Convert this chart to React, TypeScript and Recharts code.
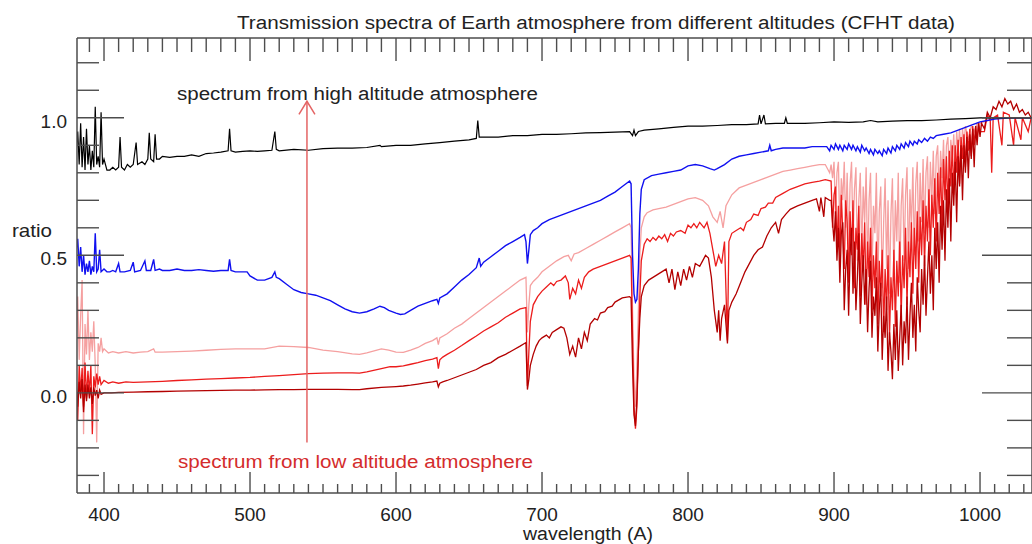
import React from "react";
import { LineChart, Line, XAxis, YAxis, ReferenceLine } from "recharts";

// ratio spectra, [wavelength, ratio]
const highAltitude: [number, number][] = [
  [381, 0.88], [382, 0.95], [383, 0.83], [384, 0.98], [385, 0.82], [386, 0.93], [387, 0.81], [388, 0.96],
  [389, 0.83], [390, 0.9], [391, 0.81], [392, 0.88], [393, 0.82], [394, 1.04], [395, 0.83], [396, 0.86],
  [397, 0.82], [398, 1.02], [399, 0.83], [400, 0.85], [402, 0.81], [404, 0.81], [406, 0.82], [408, 0.81],
  [410, 0.82], [411, 0.93], [412, 0.82], [414, 0.81], [416, 0.83], [418, 0.82], [420, 0.83], [422, 0.91],
  [423, 0.83], [426, 0.84], [428, 0.83], [430, 0.85], [431, 0.945], [432, 0.85], [434, 0.84], [435, 0.94],
  [436, 0.85], [438, 0.85], [440, 0.86], [445, 0.856], [450, 0.86], [455, 0.86], [460, 0.865], [465, 0.86],
  [470, 0.87], [475, 0.872], [480, 0.875], [485, 0.88], [486, 0.96], [487, 0.88], [490, 0.875], [495, 0.878],
  [500, 0.88], [505, 0.878], [510, 0.88], [515, 0.882], [517, 0.95], [518, 0.885], [520, 0.88], [530, 0.885],
  [540, 0.882], [550, 0.888], [560, 0.89], [570, 0.89], [580, 0.892], [589, 0.9], [590, 0.895], [600, 0.9],
  [610, 0.9], [620, 0.905], [630, 0.91], [640, 0.915], [650, 0.92], [655, 0.925], [656, 0.99], [657, 0.93],
  [660, 0.93], [670, 0.93], [680, 0.935], [690, 0.935], [700, 0.94], [710, 0.94], [720, 0.942], [730, 0.945],
  [740, 0.946], [750, 0.948], [760, 0.95], [762, 0.935], [763, 0.955], [764, 0.935], [766, 0.95], [770, 0.955],
  [780, 0.96], [790, 0.965], [800, 0.97], [810, 0.97], [820, 0.972], [830, 0.975], [840, 0.975], [848, 0.978],
  [849, 1.01], [850, 0.978], [852, 1.01], [853, 0.978], [860, 0.98], [866, 0.98], [867, 1.0], [868, 0.98],
  [880, 0.98], [890, 0.982], [900, 0.985], [910, 0.983], [920, 0.985], [925, 0.99], [930, 0.985], [940, 0.988],
  [950, 0.99], [960, 0.99], [970, 0.992], [980, 0.995], [990, 0.997], [1000, 1.0], [1010, 1.0], [1020, 1.0],
  [1035, 1.0],
];

const blueSpectrum: [number, number][] = [
  [381, 0.52], [382, 0.56], [383, 0.46], [384, 0.53], [385, 0.44], [386, 0.5], [387, 0.43], [388, 0.47],
  [389, 0.44], [390, 0.48], [391, 0.43], [392, 0.46], [393, 0.44], [394, 0.58], [395, 0.44], [396, 0.45],
  [397, 0.52], [398, 0.44], [400, 0.45], [402, 0.44], [404, 0.44], [406, 0.445], [408, 0.44], [410, 0.47],
  [411, 0.44], [414, 0.44], [418, 0.445], [420, 0.475], [421, 0.44], [425, 0.445], [428, 0.48], [429, 0.445],
  [432, 0.445], [434, 0.485], [435, 0.445], [438, 0.45], [440, 0.445], [445, 0.445], [450, 0.45], [455, 0.445],
  [460, 0.445], [465, 0.448], [470, 0.445], [475, 0.442], [480, 0.445], [485, 0.445], [486, 0.485], [487, 0.445],
  [490, 0.44], [495, 0.44], [498, 0.44], [500, 0.425], [505, 0.41], [510, 0.41], [515, 0.42], [517, 0.44],
  [518, 0.42], [520, 0.415], [525, 0.395], [530, 0.375], [535, 0.365], [540, 0.36], [545, 0.355], [550, 0.345],
  [555, 0.335], [560, 0.32], [565, 0.305], [570, 0.295], [575, 0.29], [580, 0.295], [585, 0.305], [589, 0.315],
  [592, 0.31], [595, 0.3], [600, 0.29], [603, 0.285], [606, 0.287], [610, 0.3], [615, 0.315], [620, 0.325],
  [625, 0.335], [628, 0.34], [629, 0.325], [630, 0.345], [635, 0.36], [640, 0.385], [645, 0.41], [650, 0.43],
  [655, 0.455], [657, 0.49], [658, 0.46], [660, 0.475], [665, 0.495], [670, 0.515], [675, 0.535], [680, 0.55],
  [685, 0.565], [688, 0.575], [689, 0.55], [690, 0.47], [691, 0.52], [692, 0.575], [694, 0.59], [697, 0.6],
  [700, 0.615], [705, 0.63], [710, 0.64], [715, 0.65], [720, 0.66], [725, 0.67], [730, 0.68], [735, 0.69],
  [740, 0.7], [745, 0.715], [750, 0.73], [755, 0.75], [760, 0.77], [761, 0.76], [762, 0.5], [763, 0.36],
  [764, 0.33], [765, 0.34], [766, 0.45], [767, 0.65], [768, 0.74], [770, 0.775], [775, 0.79], [780, 0.795],
  [785, 0.8], [790, 0.805], [795, 0.81], [800, 0.825], [805, 0.83], [810, 0.825], [815, 0.815], [818, 0.81],
  [820, 0.815], [825, 0.83], [830, 0.85], [835, 0.86], [840, 0.865], [845, 0.87], [850, 0.875], [855, 0.88],
  [856, 0.9], [857, 0.88], [860, 0.885], [865, 0.89], [870, 0.89], [875, 0.89], [880, 0.89], [885, 0.895],
  [890, 0.895], [895, 0.895], [897, 0.88], [898, 0.9], [900, 0.885], [901, 0.905], [903, 0.885], [904, 0.9],
  [906, 0.88], [907, 0.9], [909, 0.885], [910, 0.905], [912, 0.885], [913, 0.9], [915, 0.88], [916, 0.895],
  [918, 0.875], [919, 0.9], [921, 0.88], [922, 0.89], [924, 0.87], [925, 0.885], [927, 0.865], [928, 0.885],
  [930, 0.87], [931, 0.88], [933, 0.862], [934, 0.885], [936, 0.87], [937, 0.89], [939, 0.872], [940, 0.895],
  [942, 0.88], [943, 0.9], [945, 0.885], [946, 0.905], [948, 0.89], [949, 0.91], [951, 0.895], [952, 0.915],
  [954, 0.9], [955, 0.915], [957, 0.905], [958, 0.92], [960, 0.91], [962, 0.925], [964, 0.915], [966, 0.93],
  [968, 0.925], [970, 0.935], [975, 0.94], [980, 0.945], [985, 0.955], [990, 0.965], [995, 0.975],
  [1000, 0.985], [1005, 0.99], [1010, 0.995], [1020, 1.0], [1035, 1.0],
];

const pinkSpectrum: [number, number][] = [
  [381, 0.2], [382, 0.35], [383, 0.12], [384, 0.28], [385, 0.41], [386, -0.15], [387, 0.25], [388, 0.14],
  [389, 0.3], [390, 0.12], [391, 0.22], [392, 0.15], [393, 0.26], [394, 0.1], [395, -0.18], [396, 0.18],
  [397, 0.15], [398, 0.2], [399, 0.15], [400, 0.16], [403, 0.145], [406, 0.15], [410, 0.145], [415, 0.15],
  [420, 0.145], [425, 0.148], [430, 0.15], [434, 0.16], [435, 0.148], [440, 0.148], [450, 0.15], [460, 0.152],
  [470, 0.155], [480, 0.158], [490, 0.16], [500, 0.16], [510, 0.16], [520, 0.17], [530, 0.168], [540, 0.165],
  [550, 0.155], [560, 0.15], [570, 0.142], [575, 0.14], [580, 0.145], [590, 0.16], [595, 0.155], [600, 0.148],
  [605, 0.147], [610, 0.155], [615, 0.165], [620, 0.18], [625, 0.19], [628, 0.2], [629, 0.175], [630, 0.2],
  [635, 0.215], [640, 0.235], [645, 0.25], [650, 0.27], [655, 0.29], [660, 0.31], [665, 0.33], [670, 0.35],
  [675, 0.37], [680, 0.39], [685, 0.41], [689, 0.42], [690, 0.22], [691, 0.32], [692, 0.39], [694, 0.405],
  [697, 0.42], [700, 0.44], [705, 0.46], [710, 0.48], [715, 0.495], [718, 0.5], [720, 0.48], [722, 0.505],
  [725, 0.51], [730, 0.525], [735, 0.54], [740, 0.555], [745, 0.57], [750, 0.585], [755, 0.6], [760, 0.615],
  [761, 0.6], [762, 0.3], [763, 0.05], [764, -0.05], [765, 0.1], [766, 0.3], [767, 0.5], [768, 0.6],
  [770, 0.64], [772, 0.655], [776, 0.665], [780, 0.67], [785, 0.675], [790, 0.685], [795, 0.695], [800, 0.705],
  [805, 0.71], [810, 0.7], [814, 0.68], [817, 0.64], [820, 0.62], [822, 0.66], [824, 0.6], [826, 0.68],
  [830, 0.72], [835, 0.745], [840, 0.755], [845, 0.765], [850, 0.775], [855, 0.785], [860, 0.795], [865, 0.805],
  [870, 0.81], [875, 0.815], [880, 0.82], [885, 0.825], [890, 0.83], [894, 0.83], [897, 0.8],
  [898, 0.83], [899, 0.78], [900, 0.84], [901, 0.65], [902, 0.8], [903, 0.84], [904, 0.58], [905, 0.78],
  [906, 0.7], [907, 0.84], [908, 0.6], [909, 0.8], [910, 0.52], [911, 0.76], [912, 0.84], [913, 0.55],
  [914, 0.74], [915, 0.82], [916, 0.48], [917, 0.7], [918, 0.8], [919, 0.5], [920, 0.75], [921, 0.62],
  [922, 0.82], [923, 0.45], [924, 0.7], [925, 0.8], [926, 0.42], [927, 0.68], [928, 0.58], [929, 0.8],
  [930, 0.4], [931, 0.66], [932, 0.75], [933, 0.38], [934, 0.62], [935, 0.78], [936, 0.45], [937, 0.7],
  [938, 0.36], [939, 0.65], [940, 0.78], [941, 0.42], [942, 0.7], [943, 0.55], [944, 0.8], [945, 0.4],
  [946, 0.68], [947, 0.78], [948, 0.48], [949, 0.72], [950, 0.82], [951, 0.45], [952, 0.74], [953, 0.6],
  [954, 0.82], [955, 0.5], [956, 0.76], [957, 0.84], [958, 0.55], [959, 0.8], [960, 0.62], [961, 0.85],
  [962, 0.58], [963, 0.8], [964, 0.86], [965, 0.6], [966, 0.84], [967, 0.7], [968, 0.88], [969, 0.65],
  [970, 0.86], [971, 0.9], [972, 0.7], [973, 0.88], [974, 0.78], [975, 0.92], [976, 0.72], [977, 0.9],
  [978, 0.93], [979, 0.78], [980, 0.92], [981, 0.85], [982, 0.94], [983, 0.8], [984, 0.95], [985, 0.88],
  [986, 0.96], [987, 0.85], [988, 0.96], [989, 0.9], [990, 0.97], [992, 0.92], [994, 0.97], [996, 0.95],
  [998, 0.98], [1000, 0.98], [1005, 0.99], [1010, 1.0], [1020, 1.0], [1035, 1.0],
];

const redSpectrum: [number, number][] = [
  [381, 0.05], [382, -0.1], [383, 0.1], [384, 0.0], [385, 0.09], [386, -0.05], [387, 0.11], [388, -0.02],
  [389, 0.08], [390, 0.0], [391, 0.1], [392, -0.15], [393, 0.06], [394, 0.02], [395, 0.07], [396, 0.03],
  [397, 0.06], [398, 0.03], [400, 0.045], [403, 0.035], [406, 0.04], [410, 0.035], [415, 0.04], [420, 0.038],
  [430, 0.04], [440, 0.042], [450, 0.045], [460, 0.047], [470, 0.05], [480, 0.052], [490, 0.054], [500, 0.056],
  [510, 0.06], [520, 0.063], [530, 0.066], [540, 0.07], [550, 0.072], [560, 0.073], [570, 0.073], [575, 0.072],
  [580, 0.076], [590, 0.088], [596, 0.095], [600, 0.095], [605, 0.098], [610, 0.104], [615, 0.11], [620, 0.117],
  [625, 0.123], [628, 0.128], [629, 0.088], [630, 0.12], [632, 0.13], [635, 0.14], [640, 0.155], [645, 0.172],
  [650, 0.19], [655, 0.207], [660, 0.225], [665, 0.24], [670, 0.255], [675, 0.275], [680, 0.29], [685, 0.305],
  [689, 0.31], [690, 0.025], [691, 0.15], [692, 0.26], [694, 0.32], [697, 0.35], [700, 0.37], [703, 0.385],
  [706, 0.4], [708, 0.39], [710, 0.405], [713, 0.41], [716, 0.425], [718, 0.4], [719, 0.34], [721, 0.38],
  [723, 0.36], [725, 0.41], [727, 0.38], [729, 0.42], [732, 0.44], [735, 0.45], [740, 0.46], [745, 0.47],
  [750, 0.48], [755, 0.49], [760, 0.5], [761, 0.49], [762, 0.2], [763, -0.05], [764, -0.13], [765, -0.05],
  [766, 0.15], [767, 0.35], [768, 0.48], [770, 0.54], [772, 0.56], [774, 0.55], [776, 0.565], [778, 0.555],
  [780, 0.57], [782, 0.56], [784, 0.575], [786, 0.55], [788, 0.58], [790, 0.57], [792, 0.585], [795, 0.59],
  [798, 0.58], [800, 0.61], [802, 0.6], [804, 0.615], [806, 0.6], [808, 0.62], [811, 0.6], [813, 0.62],
  [815, 0.58], [817, 0.52], [819, 0.46], [821, 0.5], [823, 0.47], [825, 0.55], [827, 0.19], [828, 0.55],
  [830, 0.58], [833, 0.59], [836, 0.6], [838, 0.59], [840, 0.62], [843, 0.63], [845, 0.65], [848, 0.645],
  [850, 0.67], [853, 0.675], [855, 0.69], [858, 0.69], [860, 0.71], [865, 0.725], [870, 0.74], [875, 0.75],
  [880, 0.76], [885, 0.765], [890, 0.77], [894, 0.775],
  [898, 0.77], [899, 0.6], [900, 0.72], [901, 0.75], [902, 0.52], [903, 0.68], [904, 0.48], [905, 0.72],
  [906, 0.58], [907, 0.45], [908, 0.7], [909, 0.62], [910, 0.4], [911, 0.66], [912, 0.5], [913, 0.7],
  [914, 0.38], [915, 0.6], [916, 0.52], [917, 0.68], [918, 0.35], [919, 0.58], [920, 0.45], [921, 0.62],
  [922, 0.32], [923, 0.55], [924, 0.42], [925, 0.6], [926, 0.3], [927, 0.5], [928, 0.38], [929, 0.55],
  [930, 0.25], [931, 0.48], [932, 0.35], [933, 0.52], [934, 0.22], [935, 0.45], [936, 0.3], [937, 0.5],
  [938, 0.2], [939, 0.42], [940, 0.3], [941, 0.52], [942, 0.24], [943, 0.48], [944, 0.35], [945, 0.55],
  [946, 0.28], [947, 0.5], [948, 0.38], [949, 0.6], [950, 0.32], [951, 0.55], [952, 0.42], [953, 0.62],
  [954, 0.36], [955, 0.6], [956, 0.45], [957, 0.66], [958, 0.4], [959, 0.64], [960, 0.5], [961, 0.7],
  [962, 0.46], [963, 0.68], [964, 0.55], [965, 0.74], [966, 0.5], [967, 0.72], [968, 0.6], [969, 0.78],
  [970, 0.55], [971, 0.8], [972, 0.65], [973, 0.82], [974, 0.6], [975, 0.85], [976, 0.7], [977, 0.86],
  [978, 0.66], [979, 0.88], [980, 0.75], [981, 0.9], [982, 0.72], [983, 0.9], [984, 0.8], [985, 0.92],
  [986, 0.76], [987, 0.93], [988, 0.85], [989, 0.94], [990, 0.82], [991, 0.95], [992, 0.88], [993, 0.96],
  [994, 0.86], [995, 0.97], [996, 0.9], [997, 0.97], [998, 0.92], [999, 0.98], [1000, 0.95],
  [1003, 0.95], [1005, 1.01], [1007, 0.99], [1008, 0.8], [1009, 1.0], [1012, 1.01], [1015, 0.9], [1016, 1.02],
  [1020, 1.01], [1023, 0.9], [1024, 1.0], [1028, 0.92], [1029, 1.0], [1033, 0.95], [1035, 1.0],
];

const darkRedSpectrum: [number, number][] = [
  [381, 0.02], [382, -0.05], [383, 0.04], [384, -0.02], [385, 0.05], [386, -0.07], [387, 0.03], [388, -0.03],
  [389, 0.03], [390, -0.02], [391, 0.02], [392, -0.04], [393, 0.02], [394, -0.01], [395, 0.01], [396, -0.02],
  [397, 0.01], [398, -0.005], [400, 0.0], [405, 0.0], [410, 0.002], [420, 0.003], [430, 0.004], [440, 0.005],
  [450, 0.006], [460, 0.007], [470, 0.008], [480, 0.009], [490, 0.01], [500, 0.01], [510, 0.011], [520, 0.012],
  [530, 0.012], [540, 0.013], [550, 0.013], [560, 0.013], [570, 0.012], [575, 0.012], [580, 0.015], [590, 0.02],
  [600, 0.023], [605, 0.025], [610, 0.028], [615, 0.032], [620, 0.036], [625, 0.04], [628, 0.043], [629, 0.022],
  [630, 0.035], [632, 0.04], [635, 0.045], [640, 0.055], [645, 0.065], [650, 0.075], [655, 0.085], [660, 0.1],
  [665, 0.11], [670, 0.128], [675, 0.14], [680, 0.155], [685, 0.17], [689, 0.183], [690, 0.012], [691, 0.05],
  [692, 0.1], [694, 0.14], [696, 0.17], [698, 0.19], [700, 0.2], [703, 0.21], [705, 0.2], [707, 0.22],
  [710, 0.23], [713, 0.24], [715, 0.235], [717, 0.2], [719, 0.14], [721, 0.17], [723, 0.13], [725, 0.2],
  [727, 0.16], [729, 0.22], [731, 0.19], [733, 0.25], [736, 0.27], [738, 0.265], [740, 0.29], [743, 0.295],
  [745, 0.31], [748, 0.315], [750, 0.33], [755, 0.345], [760, 0.35], [761, 0.345], [762, 0.1], [763, -0.08],
  [764, -0.12], [765, -0.02], [766, 0.15], [767, 0.27], [768, 0.35], [770, 0.39], [773, 0.41], [776, 0.42],
  [779, 0.43], [782, 0.44], [785, 0.45], [787, 0.4], [789, 0.45], [791, 0.375], [793, 0.44], [795, 0.39],
  [797, 0.45], [799, 0.41], [801, 0.46], [803, 0.42], [805, 0.47], [808, 0.46], [810, 0.48], [812, 0.5],
  [814, 0.49], [816, 0.42], [818, 0.3], [820, 0.22], [821, 0.3], [822, 0.19], [823, 0.27], [825, 0.32],
  [827, 0.18], [828, 0.3], [830, 0.33], [833, 0.36], [836, 0.4], [839, 0.44], [842, 0.47], [845, 0.5],
  [848, 0.52], [851, 0.53], [854, 0.57], [857, 0.6], [860, 0.62], [862, 0.58], [864, 0.63], [867, 0.65],
  [870, 0.667], [875, 0.68], [880, 0.69], [885, 0.7], [888, 0.705], [890, 0.66], [891, 0.71], [893, 0.64],
  [894, 0.71], [897, 0.7],
  [898, 0.7], [899, 0.62], [900, 0.55], [901, 0.66], [902, 0.48], [903, 0.6], [904, 0.4], [905, 0.58],
  [906, 0.62], [907, 0.3], [908, 0.45], [909, 0.52], [910, 0.28], [911, 0.5], [912, 0.6], [913, 0.36],
  [914, 0.55], [915, 0.3], [916, 0.42], [917, 0.58], [918, 0.25], [919, 0.4], [920, 0.5], [921, 0.32],
  [922, 0.45], [923, 0.22], [924, 0.38], [925, 0.48], [926, 0.2], [927, 0.35], [928, 0.28], [929, 0.42],
  [930, 0.15], [931, 0.3], [932, 0.4], [933, 0.12], [934, 0.28], [935, 0.2], [936, 0.35], [937, 0.08],
  [938, 0.22], [939, 0.15], [940, 0.05], [941, 0.25], [942, 0.12], [943, 0.3], [944, 0.08], [945, 0.2],
  [946, 0.32], [947, 0.1], [948, 0.26], [949, 0.18], [950, 0.35], [951, 0.12], [952, 0.28], [953, 0.4],
  [954, 0.2], [955, 0.32], [956, 0.15], [957, 0.42], [958, 0.3], [959, 0.22], [960, 0.45], [961, 0.32],
  [962, 0.5], [963, 0.28], [964, 0.42], [965, 0.55], [966, 0.36], [967, 0.5], [968, 0.3], [969, 0.6],
  [970, 0.45], [971, 0.62], [972, 0.4], [973, 0.68], [974, 0.52], [975, 0.7], [976, 0.48], [977, 0.74],
  [978, 0.6], [979, 0.78], [980, 0.55], [981, 0.8], [982, 0.68], [983, 0.84], [984, 0.62], [985, 0.86],
  [986, 0.75], [987, 0.9], [988, 0.7], [989, 0.9], [990, 0.8], [991, 0.93], [992, 0.78], [993, 0.94],
  [994, 0.85], [995, 0.96], [996, 0.82], [997, 0.97], [998, 0.9], [999, 0.98], [1000, 0.93],
  [1001, 0.98], [1003, 0.96], [1005, 1.02], [1007, 1.0], [1009, 1.04], [1011, 1.03], [1013, 1.06],
  [1015, 1.04], [1017, 1.07], [1019, 1.05], [1021, 1.06], [1023, 1.03], [1025, 1.05], [1027, 1.02],
  [1029, 1.03], [1031, 1.01], [1033, 1.02], [1035, 1.0],
];

const majorWavelengths = [400, 500, 600, 700, 800, 900, 1000];
const labelledRatios = [0, 0.5, 1];
const wavelengthTicks = Array.from({ length: 65 }, (_, i) => 390 + i * 10);
const ratioTicks = Array.from({ length: 16 }, (_, i) => Math.round(-3 + i) / 10);

const X_DOMAIN: [number, number] = [381.5, 1035.6];
const Y_DOMAIN: [number, number] = [-0.364, 1.29];

const AXIS = "#4d4d4d";
const FONT = "'Liberation Sans', Arial, Helvetica, sans-serif";
const TEXT = "#222";

const toPoints = (s: [number, number][]) => s.map(([wl, v]) => ({ wl, v }));

const isMajorWl = (v: number) => majorWavelengths.includes(v);
const isLabelledRatio = (v: number) => labelledRatios.some((r) => Math.abs(r - v) < 1e-6);
const isHalfStep = (v: number) => Math.abs(v * 2 - Math.round(v * 2)) < 1e-6;

function BottomTick(props: any) {
  const { x, y, payload } = props;
  const v = payload.value;
  const major = isMajorWl(v);
  return (
    <g>
      <line x1={x} y1={y} x2={x} y2={y - (major ? 21 : 9)} stroke={AXIS} strokeWidth={1.4} />
      {major && (
        <text x={x} y={y + 28} textAnchor="middle" fontSize={19} fontFamily={FONT} fill={TEXT}>
          {v}
        </text>
      )}
    </g>
  );
}

function TopTick(props: any) {
  const { x, y, payload } = props;
  const major = isMajorWl(payload.value);
  return <line x1={x} y1={y} x2={x} y2={y + (major ? 23 : 14)} stroke={AXIS} strokeWidth={1.4} />;
}

function LeftTick(props: any) {
  const { x, y, payload } = props;
  const v = payload.value;
  const major = isHalfStep(v);
  return (
    <g>
      <line x1={x} y1={y} x2={x + (major ? 47 : 22)} y2={y} stroke={AXIS} strokeWidth={1.4} />
      {isLabelledRatio(v) && (
        <text x={x - 10} y={y + 10} textAnchor="end" fontSize={19} fontFamily={FONT} fill={TEXT}>
          {v.toFixed(1)}
        </text>
      )}
    </g>
  );
}

function RightTick(props: any) {
  const { x, y, payload } = props;
  const major = isHalfStep(payload.value);
  return <line x1={x} y1={y} x2={x - (major ? 50 : 25)} y2={y} stroke={AXIS} strokeWidth={1.4} />;
}

function Arrow(props: any) {
  const { x1, y1, x2, y2 } = props;
  const top = Math.min(y1, y2);
  const bottom = Math.max(y1, y2);
  return (
    <g>
      <line x1={x1} y1={bottom} x2={x2} y2={top} stroke="#e46464" strokeWidth={1.5} />
      <polyline
        points={`${x2 - 8},${top + 13} ${x2},${top} ${x2 + 8},${top + 13}`}
        fill="none"
        stroke="#e46464"
        strokeWidth={1.5}
      />
    </g>
  );
}

const series = [
  { name: "pink", data: toPoints(pinkSpectrum), color: "#f5a0a0", width: 1.3 },
  { name: "red", data: toPoints(redSpectrum), color: "#ec1c1c", width: 1.3 },
  { name: "darkred", data: toPoints(darkRedSpectrum), color: "#b30000", width: 1.3 },
  { name: "blue", data: toPoints(blueSpectrum), color: "#1010f0", width: 1.4 },
  { name: "black", data: toPoints(highAltitude), color: "#000000", width: 1.2 },
];

export default function App() {
  return (
    <div
      style={{
        position: "absolute",
        left: 0,
        top: 0,
        width: 1032,
        height: 544,
        overflow: "hidden",
        background: "#fff",
      }}
    >
      <LineChart width={1040} height={544} margin={{ top: 0, right: 0, bottom: 0, left: 0 }}>
        <XAxis
          xAxisId="b"
          type="number"
          dataKey="wl"
          orientation="bottom"
          domain={X_DOMAIN}
          allowDataOverflow
          ticks={wavelengthTicks}
          interval={0}
          height={51}
          tickSize={0}
          tickMargin={0}
          tickLine={false}
          axisLine={{ stroke: AXIS, strokeWidth: 1.5 }}
          tick={<BottomTick />}
        />
        <XAxis
          xAxisId="t"
          type="number"
          dataKey="wl"
          orientation="top"
          domain={X_DOMAIN}
          allowDataOverflow
          ticks={wavelengthTicks}
          interval={0}
          height={38}
          tickSize={0}
          tickMargin={0}
          tickLine={false}
          axisLine={{ stroke: AXIS, strokeWidth: 1.5 }}
          tick={<TopTick />}
        />
        <YAxis
          yAxisId="l"
          type="number"
          orientation="left"
          domain={Y_DOMAIN}
          allowDataOverflow
          ticks={ratioTicks}
          interval={0}
          width={77}
          tickSize={0}
          tickMargin={0}
          tickLine={false}
          axisLine={{ stroke: AXIS, strokeWidth: 1.5 }}
          tick={<LeftTick />}
        />
        <YAxis
          yAxisId="r"
          type="number"
          orientation="right"
          domain={Y_DOMAIN}
          allowDataOverflow
          ticks={ratioTicks}
          interval={0}
          width={8}
          tickSize={0}
          tickMargin={0}
          tickLine={false}
          axisLine={{ stroke: AXIS, strokeWidth: 1.5 }}
          tick={<RightTick />}
        />
        {series.map((s) => (
          <Line
            key={s.name}
            xAxisId="b"
            yAxisId="l"
            data={s.data}
            dataKey="v"
            type="linear"
            stroke={s.color}
            strokeWidth={s.width}
            dot={false}
            activeDot={false}
            isAnimationActive={false}
          />
        ))}
        <ReferenceLine
          xAxisId="b"
          yAxisId="l"
          segment={[
            { x: 539, y: -0.18 },
            { x: 539, y: 1.06 },
          ]}
          shape={Arrow}
        />
      </LineChart>
      <svg
        width={1032}
        height={544}
        style={{ position: "absolute", left: 0, top: 0, pointerEvents: "none" }}
        fontFamily={FONT}
      >
        <text x={596} y={29} textAnchor="middle" fontSize={18} fill={TEXT} textLength={718} lengthAdjust="spacingAndGlyphs">
          Transmission spectra of Earth atmosphere from different altitudes (CFHT data)
        </text>
        <text x={12} y={237} fontSize={19} fill={TEXT} textLength={40} lengthAdjust="spacingAndGlyphs">
          ratio
        </text>
        <text x={523} y={540} fontSize={18} fill={TEXT} textLength={130} lengthAdjust="spacingAndGlyphs">
          wavelength (A)
        </text>
        <text x={177} y={100} fontSize={18} fill={TEXT} textLength={361} lengthAdjust="spacingAndGlyphs">
          spectrum from high altitude atmosphere
        </text>
        <text x={178} y={468} fontSize={18} fill="#d42c2c" textLength={355} lengthAdjust="spacingAndGlyphs">
          spectrum from low altitude atmosphere
        </text>
      </svg>
    </div>
  );
}
